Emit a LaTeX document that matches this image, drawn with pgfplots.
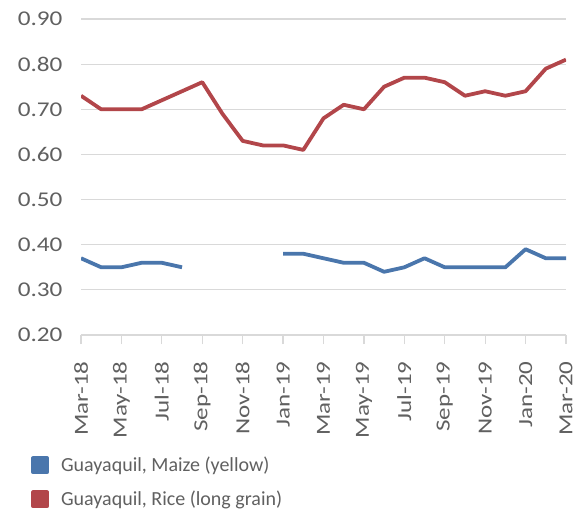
\documentclass[border=0pt]{standalone}
\usepackage{fontspec}
\setmainfont{Carlito}
\newfontfamily\tickfont[FakeStretch=1.2]{Carlito}
\newfontfamily\xtickfont[FakeStretch=1.25]{Carlito}
\usepackage{pgfplots}
\pgfplotsset{compat=1.18}
\definecolor{maize}{RGB}{74,118,172}
\definecolor{rice}{RGB}{178,70,74}
\definecolor{txt}{RGB}{96,96,96}
\definecolor{gridc}{RGB}{217,217,217}
\begin{document}
\begin{tikzpicture}
\useasboundingbox (-81bp,-175bp) rectangle (507bp,335bp);
\begin{axis}[
  scale only axis,
  width=485bp, height=316bp,
  xmin=0, xmax=24, ymin=0.2, ymax=0.9,
  axis lines*=left,
  y axis line style={draw=none},
  x axis line style={draw=gridc, line width=1.2bp, -},
  ytick={0.2,0.3,0.4,0.5,0.6,0.7,0.8,0.9},
  ymajorgrids, grid style={draw=gridc, line width=1.2bp},
  ytick style={draw=none},
  xtick={0,2,...,24},
  xticklabels={Mar-18,May-18,Jul-18,Sep-18,Nov-18,Jan-19,Mar-19,May-19,Jul-19,Sep-19,Nov-19,Jan-20,Mar-20},
  xtick align=outside,
  major tick length=9bp,
  xtick style={draw=gridc, line width=1.2bp},
  /pgf/number format/assume math mode=true,
  yticklabel style={font=\tickfont\fontsize{21bp}{24bp}\selectfont, text=txt, xshift=-15bp,
    /pgf/number format/.cd, fixed, fixed zerofill, precision=2},
  xticklabel style={font=\xtickfont\fontsize{20bp}{23bp}\selectfont, text=txt, yshift=-14bp, rotate=90, anchor=east},
  unbounded coords=jump,
  legend cell align=left,
  legend style={at={(axis description cs:0,0)}, anchor=north west, xshift=-50bp, yshift=-119bp,
    draw=none, fill=none, inner sep=0pt, row sep=12bp,
    font=\fontsize{20bp}{23bp}\selectfont, text=txt,
    nodes={inner sep=3bp}},
  legend image code/.code={\fill[#1] (0bp,-7bp) rectangle (14bp,7bp); \path[draw=none] (0bp,0bp) -- (25bp,0bp);},
]
\addplot[color=maize, line width=3.8bp, line join=round] coordinates {
(0,0.37) (1,0.35) (2,0.35) (3,0.36) (4,0.36) (5,0.35)
(6,nan) (7,nan) (8,nan) (9,nan)
(10,0.38) (11,0.38) (12,0.37) (13,0.36) (14,0.36) (15,0.34) (16,0.35) (17,0.37)
(18,0.35) (19,0.35) (20,0.35) (21,0.35) (22,0.39) (23,0.37) (24,0.37)
};
\addlegendentry{Guayaquil, Maize (yellow)}
\addplot[color=rice, line width=3.8bp, line join=round] coordinates {
(0,0.73) (1,0.70) (2,0.70) (3,0.70) (4,0.72) (5,0.74) (6,0.76) (7,0.69) (8,0.63)
(9,0.62) (10,0.62) (11,0.61) (12,0.68) (13,0.71) (14,0.70) (15,0.75) (16,0.77)
(17,0.77) (18,0.76) (19,0.73) (20,0.74) (21,0.73) (22,0.74) (23,0.79) (24,0.81)
};
\addlegendentry{Guayaquil, Rice (long grain)}
\end{axis}
\end{tikzpicture}
\end{document}
